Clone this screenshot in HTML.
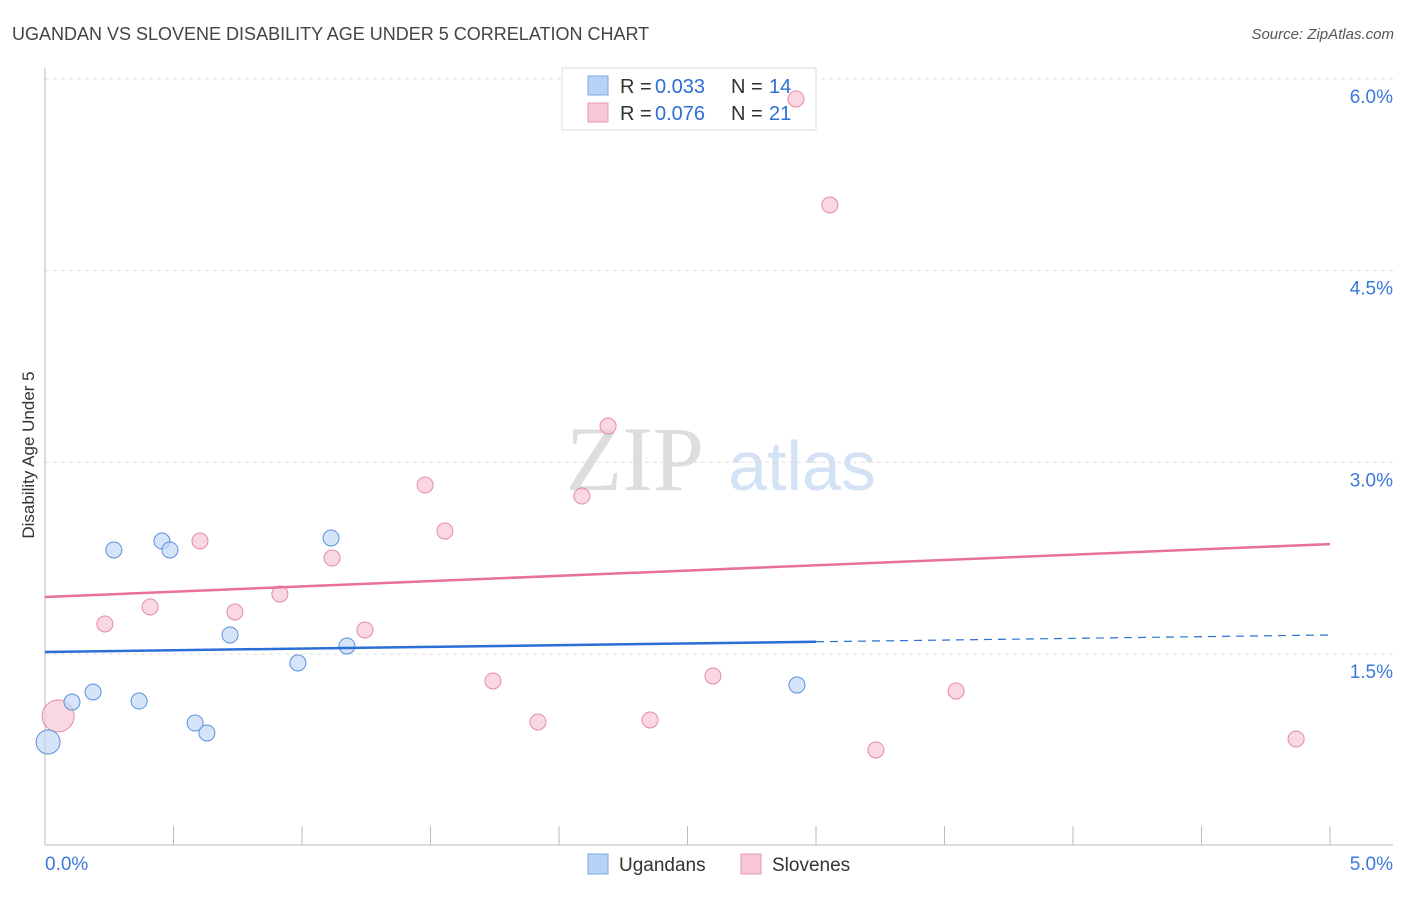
<!DOCTYPE html>
<html><head><meta charset="utf-8"><style>
body{margin:0;background:#fff;font-family:"Liberation Sans",sans-serif}
</style></head><body>
<svg id="c" width="1406" height="892" xmlns="http://www.w3.org/2000/svg">
<text x="12" y="40" font-size="18" fill="#444">UGANDAN VS SLOVENE DISABILITY AGE UNDER 5 CORRELATION CHART</text>
<text x="1394" y="39" font-size="15" fill="#555" font-style="italic" text-anchor="end">Source: ZipAtlas.com</text>
<text x="34" y="455" font-size="17" fill="#333" text-anchor="middle" transform="rotate(-90 34 455)">Disability Age Under 5</text>
<g><text x="635" y="490" font-size="92" fill="#ddd" font-family="Liberation Serif" text-anchor="middle">ZIP</text><text x="802" y="490" font-size="70" fill="#d3e2f5" text-anchor="middle">atlas</text></g>
<g id="grid"></g><g id="axes"></g>
<g>
<rect x="562" y="68" width="254" height="62" fill="#fff" stroke="#ddd"/>
<rect x="588" y="76" width="20" height="19" fill="#b8d3f5" stroke="#7aa8e0"/>
<text y="93" font-size="20" fill="#333"><tspan x="620">R =</tspan><tspan x="655" fill="#2b6fd6">0.033</tspan><tspan x="731">N =</tspan><tspan x="769" fill="#2b6fd6">14</tspan></text>
<rect x="588" y="103" width="20" height="19" fill="#f8c8d6" stroke="#e899b0"/>
<text y="120" font-size="20" fill="#333"><tspan x="620">R =</tspan><tspan x="655" fill="#2b6fd6">0.076</tspan><tspan x="731">N =</tspan><tspan x="769" fill="#2b6fd6">21</tspan></text>
</g>
<g id="marks"></g>
<g>
<rect x="588" y="854" width="20" height="20" fill="#b8d3f5" stroke="#7aa8e0"/><text x="619" y="871" font-size="19" fill="#333">Ugandans</text>
<rect x="741" y="854" width="20" height="20" fill="#f8c8d6" stroke="#e899b0"/><text x="772" y="871" font-size="19" fill="#333">Slovenes</text>
</g>
</svg>
<script>
const yTicks=[1.5,3.0,4.5,6.0];
const yTickLabels=["1.5%","3.0%","4.5%","6.0%"];
const xTickLabels=["0.0%","5.0%"];
const ugX=[0.012,0.105,0.187,0.268,0.366,0.455,0.486,0.584,0.630,0.720,0.984,1.113,1.175,2.926];
const ugY=[0.811,1.124,1.203,2.314,1.132,2.384,2.314,0.960,0.882,1.649,1.430,2.408,1.563,1.257];
const slX=[0.051,0.233,0.409,0.603,0.739,0.914,1.117,1.245,1.479,1.556,1.743,1.918,2.089,2.191,2.354,2.599,2.922,3.054,3.233,3.545,4.868];
const slY=[1.015,1.735,1.868,2.384,1.829,1.969,2.251,1.688,2.822,2.462,1.289,0.968,2.736,3.284,0.984,1.328,5.843,5.013,0.749,1.210,0.835];
const ugTrend=[1.516,1.649];
const slTrend=[1.946,2.36];
const X=v=>45+v/5*1285, Y=v=>654-(v-1.5)*127.8;
const NS="http://www.w3.org/2000/svg";
function mk(p,t,a){const e=document.createElementNS(NS,t);for(const k in a)e.setAttribute(k,a[k]);document.getElementById(p).appendChild(e);return e;}
yTicks.forEach((t,i)=>{
 const l=mk('grid','line',{x1:45,x2:1393,y1:Y(t),y2:Y(t),stroke:'#ddd','stroke-dasharray':'4,4'});
 
 
 const tx=mk('grid','text',{x:1393,y:Y(t)+24,'font-size':19,fill:'#3b78d8','text-anchor':'end'});
 tx.textContent=yTickLabels[i];
 
 
});
let a=mk('axes','line',{x1:45,x2:45,y1:68,y2:845,stroke:'#bbb'});


a=mk('axes','line',{x1:45,x2:1393,y1:845,y2:845,stroke:'#bbb'});


for(let i=0;i<=10;i++){const t=mk('axes','line',{x1:X(i*0.5),x2:X(i*0.5),y1:826,y2:845,stroke:'#bbb'});
 
 }
[[0,'start',45],[5,'end',1393]].forEach((d,i)=>{const t=mk('axes','text',{x:d[2],y:870,'font-size':19,fill:'#3b78d8','text-anchor':d[1]});t.textContent=xTickLabels[i];
 
 });
function pts(xs,ys,fill,stroke,name){xs.forEach((x,i)=>{const big=i===0;
 const c=mk('marks','circle',{cx:X(x),cy:Y(ys[i]),r:big?(name==='slovene-point'?16:12):8,fill:fill,'fill-opacity':0.7,stroke:stroke});
 
 });}
pts(slX,slY,'#f8c8d6','#e58aa8','slovene-point');
pts(ugX,ugY,'#c3d9f5','#5a90dd','ugandan-point');
const xe=3.0;const ym=ugTrend[0]+(ugTrend[1]-ugTrend[0])*xe/5;
let l=mk('marks','line',{x1:X(0),y1:Y(ugTrend[0]),x2:X(xe),y2:Y(ym),stroke:'#2b6fd6','stroke-width':2.5});


l=mk('marks','line',{x1:X(xe),y1:Y(ym),x2:X(5),y2:Y(ugTrend[1]),stroke:'#2b6fd6','stroke-width':1.2,'stroke-dasharray':'8,6'});


l=mk('marks','line',{x1:X(0),y1:Y(slTrend[0]),x2:X(5),y2:Y(slTrend[1]),stroke:'#e8709a','stroke-width':2.5});


</script>
</body></html>
